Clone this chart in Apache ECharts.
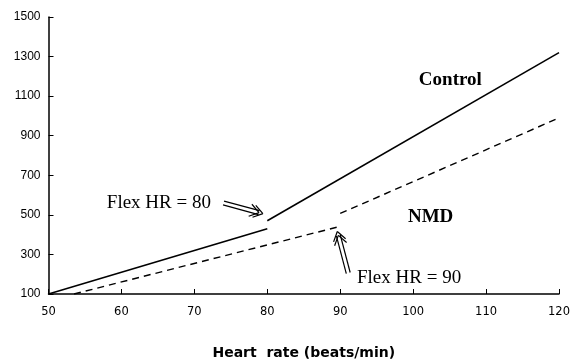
<!DOCTYPE html>
<html>
<head>
<meta charset="utf-8">
<script src="https://cdn.jsdelivr.net/npm/echarts@6/dist/echarts.min.js"></script>
<style>
  html, body { margin: 0; padding: 0; background: #fff; }
  #chart { width: 573px; height: 360px; }
</style>
</head>
<body>
<div id="chart"></div>
<script>
// y axis tick labels
const yTicks = [100, 300, 500, 700, 900, 1100, 1300, 1500];

// Control: two line segments, break at flex HR = 80
const controlLow = [[50, 100], [80, 430]];
const controlHigh = [[80, 470], [120, 1320]];

// NMD: two dashed segments, break at flex HR = 90
const nmdLow = [[53.5, 100], [89.6, 438]];
const nmdHigh = [[90, 507], [120, 990]];

// annotations in data space: [tail, tip]
const arrows = [
  [[74.0, 560], [79.4, 506]],
  [[91.1, 206], [89.6, 416]]
];
const notes = [
  { text: "Flex HR = 80", at: [58.0, 560], bold: false, align: "left" },
  { text: "Flex HR = 90", at: [92.3, 181], bold: false, align: "left" },
  { text: "Control", at: [105.1, 1181], bold: true, align: "center" },
  { text: "NMD", at: [102.4, 489], bold: true, align: "center" }
];

const chart = echarts.init(document.getElementById("chart"));

const solid = { color: "#000", width: 1.6, type: "solid" };
const dashed = { color: "#000", width: 1.4, type: [7, 5] };

chart.setOption({
  backgroundColor: "#fff",
  animation: false,
  grid: { left: 48.5, right: 14, top: 17, bottom: 66, outerBoundsMode: "none" },
  xAxis: {
    type: "value",
    min: 50,
    max: 120,
    interval: 10,
    name: "Heart  rate (beats/min)",
    nameLocation: "middle",
    nameGap: 52,
    nameTextStyle: { color: "#000", fontFamily: "DejaVu Sans", fontWeight: "bold", fontSize: 14 },
    axisLine: { lineStyle: { color: "#000", width: 1.5 } },
    axisTick: { inside: true, length: 5, lineStyle: { color: "#000", width: 1 } },
    axisLabel: { color: "#000", fontFamily: "DejaVu Sans", fontSize: 11.5, margin: 12 },
    splitLine: { show: false }
  },
  yAxis: {
    type: "value",
    min: 100,
    max: 1500,
    axisLine: { show: true, lineStyle: { color: "#000", width: 1.5 } },
    axisTick: { inside: true, length: 5, customValues: yTicks, lineStyle: { color: "#000", width: 1 } },
    axisLabel: {
      color: "#000",
      fontFamily: "Liberation Sans",
      fontSize: 12,
      margin: 8,
      customValues: yTicks,
      formatter: (v) => String(v)
    },
    splitLine: { show: false }
  },
  series: [
    { name: "Control", type: "line", data: controlLow, symbol: "none", lineStyle: solid },
    { name: "Control", type: "line", data: controlHigh, symbol: "none", lineStyle: solid },
    { name: "NMD", type: "line", data: nmdLow, symbol: "none", lineStyle: dashed },
    { name: "NMD", type: "line", data: nmdHigh, symbol: "none", lineStyle: dashed }
  ]
});

// arrows and text labels placed from data coordinates
const px = (p) => chart.convertToPixel({ gridIndex: 0 }, p);
const stroke = { stroke: "#000", lineWidth: 1.2, fill: null };
const elements = [];

arrows.forEach(([tail, tip]) => {
  const a = px(tail), b = px(tip);
  const dx = b[0] - a[0], dy = b[1] - a[1];
  const len = Math.hypot(dx, dy);
  const ux = dx / len, uy = dy / len;
  const nx = -uy, ny = ux;
  const end = [b[0] - ux * 4, b[1] - uy * 4];
  [-2, 2].forEach((o) => {
    elements.push({
      type: "line",
      shape: { x1: a[0] + nx * o, y1: a[1] + ny * o, x2: end[0] + nx * o, y2: end[1] + ny * o },
      style: stroke
    });
  });
  // open head, drawn twice for the doubled stroke of the original
  [0, 4].forEach((back) => {
    const tx = b[0] - ux * back, ty = b[1] - uy * back;
    [-1, 1].forEach((s) => {
      const c = Math.cos(0.6 * s), sn = Math.sin(0.6 * s);
      const hx = -(ux * c - uy * sn), hy = -(ux * sn + uy * c);
      elements.push({
        type: "polyline",
        shape: { points: [[tx + hx * 11, ty + hy * 11], [tx, ty]] },
        style: stroke
      });
    });
  });
});

notes.forEach((n) => {
  const p = px(n.at);
  elements.push({
    type: "text",
    x: p[0],
    y: p[1],
    style: {
      text: n.text,
      fill: "#000",
      font: (n.bold ? "bold " : "") + "19px 'Liberation Serif'",
      align: n.align,
      verticalAlign: "middle"
    }
  });
});

chart.setOption({ graphic: { elements: elements } });
</script>
</body>
</html>
